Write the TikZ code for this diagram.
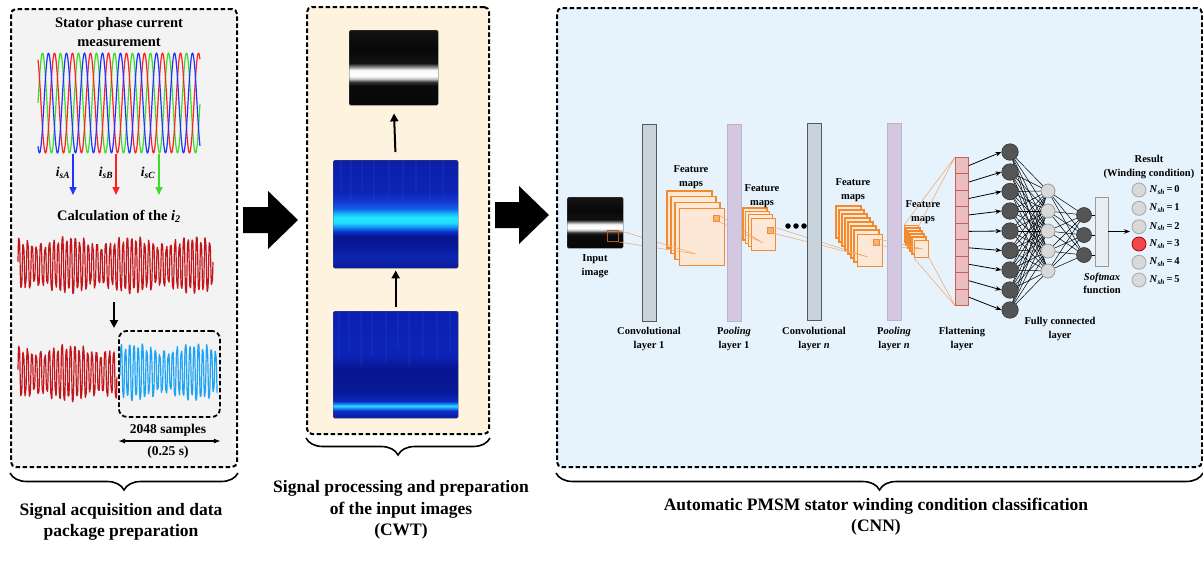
\documentclass[tikz,border=0pt]{standalone}
\usepackage{fontspec}
\setmainfont{Liberation Serif}
\usetikzlibrary{calc,decorations.pathreplacing,arrows.meta}

\definecolor{pOnefill}{HTML}{F3F3F3}
\definecolor{pTwofill}{HTML}{FDF3DF}
\definecolor{pThreefill}{HTML}{E6F3FD}
\definecolor{phA}{HTML}{2233FF}
\definecolor{phB}{HTML}{FF2020}
\definecolor{phC}{HTML}{3ADE2A}
\definecolor{itwo}{HTML}{C2161C}
\definecolor{pkt}{HTML}{1EA4F6}
\definecolor{fmedge}{HTML}{F28A2E}
\definecolor{fmfill}{HTML}{FDE8D8}
\definecolor{fmsq}{HTML}{F7B27A}
\definecolor{fmline}{HTML}{F2A86A}
\definecolor{insq}{HTML}{B45A14}
\definecolor{convfill}{HTML}{C9D3DB}
\definecolor{poolfill}{HTML}{D4C8E0}
\definecolor{pooledge}{HTML}{BFB0D2}
\definecolor{flatfill}{HTML}{EBBDBD}
\definecolor{flatedge}{HTML}{C46060}
\definecolor{neurdark}{HTML}{555555}
\definecolor{neurlight}{HTML}{D9D9D9}
\definecolor{neurred}{HTML}{F04848}
\definecolor{smfill}{HTML}{E8EEF2}

% scalogram shadings (path box = 25bp..75bp, top at 75bp)
\pgfdeclareverticalshading{grayscalo}{100bp}{%
  rgb(0bp)=(0.03,0.03,0.03); rgb(25bp)=(0.03,0.03,0.03);
  rgb(38bp)=(0.04,0.04,0.04); rgb(40.5bp)=(0.2,0.2,0.2);
  rgb(42.5bp)=(0.75,0.75,0.75); rgb(44.5bp)=(1,1,1); rgb(48.5bp)=(0.97,0.97,0.97);
  rgb(50.5bp)=(0.55,0.55,0.55); rgb(53bp)=(0.07,0.07,0.07);
  rgb(62.5bp)=(0.03,0.03,0.03); rgb(75bp)=(0.08,0.08,0.08); rgb(100bp)=(0.08,0.08,0.08)}
\pgfdeclareverticalshading{midscalo}{100bp}{%
  rgb(0bp)=(0.04,0.1,0.6); rgb(25bp)=(0.04,0.1,0.6);
  rgb(30bp)=(0.05,0.15,0.7); rgb(35bp)=(0.03,0.1,0.6);
  rgb(39.5bp)=(0.03,0.08,0.56); rgb(42bp)=(0.04,0.2,0.78);
  rgb(44bp)=(0.08,0.55,0.95); rgb(46bp)=(0.13,0.88,1);
  rgb(48.5bp)=(0.14,0.9,1); rgb(50.5bp)=(0.08,0.7,0.98);
  rgb(52.5bp)=(0.07,0.38,0.9); rgb(56bp)=(0.08,0.22,0.82);
  rgb(60bp)=(0.05,0.14,0.72); rgb(75bp)=(0.05,0.12,0.66); rgb(100bp)=(0.05,0.12,0.66)}
\pgfdeclareverticalshading{lowscalo}{100bp}{%
  rgb(0bp)=(0.04,0.1,0.62); rgb(25bp)=(0.04,0.1,0.62);
  rgb(28.5bp)=(0.05,0.18,0.78); rgb(29.75bp)=(0.1,0.55,0.98);
  rgb(30.75bp)=(0.2,0.9,1); rgb(31.5bp)=(0.1,0.6,1);
  rgb(33bp)=(0.05,0.16,0.74); rgb(37.5bp)=(0.03,0.1,0.6);
  rgb(47.5bp)=(0.03,0.08,0.56); rgb(55bp)=(0.05,0.14,0.72);
  rgb(75bp)=(0.05,0.12,0.7); rgb(100bp)=(0.05,0.12,0.7)}

% distorted negative-sequence current waveform (t in cycles)
\newcommand{\itwowave}[1]{(25*sin(360*frac(#1))+4*sin(360*frac(1.07*#1)+60)+3.5*sin(360*frac(3*#1))+3*sin(360*frac(0.61*#1)))}

\begin{document}
\begin{tikzpicture}[x=1pt,y=-1pt,
  panel/.style={draw=black, line width=2pt, dash pattern=on 4.5pt off 2.5pt,
    rounded corners=5pt, inner sep=0, anchor=north west},
  brc/.style={decorate, decoration={brace, mirror, amplitude=17pt}, line width=1.6pt},
  captxt/.style={font=\bfseries\fontsize{17.5}{21.5}\selectfont, align=center, inner sep=0},
  ttl/.style={font=\bfseries\fontsize{14.5}{19}\selectfont, align=center, inner sep=0},
  smalltxt/.style={font=\bfseries\fontsize{13.5}{19}\selectfont, align=center, inner sep=0},
  lbl/.style={font=\bfseries\fontsize{10.5}{13.5}\selectfont, align=center, inner sep=0},
  sig/.style={line width=1.2pt, line join=round},
  phasearr/.style={line width=1.4pt, -{Triangle[length=8pt,width=7pt]}},
  blkarr/.style={line width=2pt, -{Triangle[length=8pt,width=8pt]}},
  dblarr/.style={line width=1.3pt, {Latex[length=7pt,width=5pt]}-{Latex[length=7pt,width=5pt]}},
  bigarr/.style={fill=black},
  scalo/.style={shade, anchor=north west, inner sep=0, rounded corners=1.5pt, draw=black!70, line width=0.4pt},
  streak/.style={line width=2pt, color=cyan!60!blue, opacity=0.12},
  layerbar/.style={draw=black!65, line width=0.9pt, minimum width=14pt, minimum height=197pt,
    inner sep=0, anchor=north west},
  convbar/.style={layerbar, fill=convfill},
  poolbar/.style={layerbar, fill=poolfill, draw=pooledge},
  fmap/.style={draw=fmedge, fill=fmfill, line width=1.2pt},
  fmapn/.style={fmap, inner sep=0, anchor=north west},
  fsq/.style={draw=fmedge, fill=fmsq, line width=0.5pt, inner sep=0, minimum size=6pt},
  fline/.style={fmline, line width=0.55pt},
  flcell/.style={draw=flatedge, fill=flatfill, line width=0.8pt, inner sep=0,
    minimum width=13pt, minimum height=16.44pt, anchor=north west},
  ndark/.style={circle, draw=black!80, fill=neurdark, line width=0.6pt, inner sep=0, minimum size=16.5pt},
  nsmall/.style={circle, draw=black!80, fill=neurdark, line width=0.6pt, inner sep=0, minimum size=15pt},
  nlight/.style={circle, draw=black!40, fill=neurlight, line width=0.8pt, inner sep=0, minimum size=14pt},
  nres/.style={circle, draw=black!35, fill=neurlight, line width=0.8pt, inner sep=0, minimum size=14pt},
  nred/.style={nres, draw=red!70!black, fill=neurred},
  conn/.style={line width=0.5pt, black},
  farr/.style={line width=0.8pt, -{Stealth[length=6pt,width=4.5pt]}},
  dotn/.style={circle, fill=black, inner sep=0, minimum size=5.5pt}
]
\useasboundingbox (0,0) rectangle (1203,563);

% ---------- panels ----------
\node[panel, fill=pOnefill, minimum width=226pt, minimum height=458pt] (P1) at (10,8) {};
\node[panel, fill=pTwofill, minimum width=182pt, minimum height=427pt] (P2) at (306,6) {};
\node[panel, fill=pThreefill, minimum width=645pt, minimum height=459pt] (P3) at (556,7) {};

\draw[brc] ([yshift=-5pt]P1.south west) -- ([yshift=-5pt]P1.south east);
\draw[brc] ([yshift=-3pt]P2.south west) -- ([yshift=-3pt]P2.south east);
\draw[brc] ([yshift=-5pt]P3.south west) -- ([yshift=-5pt]P3.south east);

\node[captxt] (cap1) at (121,522) {Signal acquisition and data\\package preparation};
\node[captxt] (cap2) at (401,510) {Signal processing and preparation\\of the input images\\(CWT)};
\node[captxt] (cap3) at (876,516.5) {Automatic PMSM stator winding condition classification\\(CNN)};

% ---------- big flow arrows ----------
\fill[bigarr] (243,207) -- (268,207) -- (268,191) -- (298,220) -- (268,249) -- (268,233) -- (243,233) -- cycle;
\fill[bigarr] (495,202) -- (519,202) -- (519,186) -- (549,215) -- (519,244) -- (519,228) -- (495,228) -- cycle;

% ---------- panel 1: acquisition ----------
\node[ttl] (t1) at (119,32) {Stator phase current\\measurement};
\foreach \k/\c in {0/phC,1/phB,2/phA}
  \draw[sig,\c] plot[domain=0:9, samples=300, variable=\t]
    ({38+\t*18}, {103-50*sin(360*frac(\t)+120*\k)});

\coordinate (aA0) at (73,154);  \coordinate (aA1) at (73,195);
\coordinate (aB0) at (116,154); \coordinate (aB1) at (116,195);
\coordinate (aC0) at (159,154); \coordinate (aC1) at (159,195);
\draw[phasearr,phA] (aA0) -- (aA1);
\draw[phasearr,phB] (aB0) -- (aB1);
\draw[phasearr,phC] (aC0) -- (aC1);
\node[smalltxt, font=\bfseries\itshape\fontsize{13.5}{16}\selectfont] (lA) at (63,173) {i\textsubscript{sA}};
\node[smalltxt, font=\bfseries\itshape\fontsize{13.5}{16}\selectfont] (lB) at (106,173) {i\textsubscript{sB}};
\node[smalltxt, font=\bfseries\itshape\fontsize{13.5}{16}\selectfont] (lC) at (148,173) {i\textsubscript{sC}};

\node[ttl] (calc) at (119,216) {Calculation of the \textit{i}\textsubscript{\textit{2}}};
\draw[sig,itwo] plot[domain=0:45, samples=720, variable=\t]
  ({18+\t*4.3333}, {265-\itwowave{\t}});

\coordinate (dn0) at (114,302); \coordinate (dn1) at (114,328);
\draw[blkarr] (dn0) -- (dn1);

\draw[sig,itwo] plot[domain=0:23, samples=380, variable=\t]
  ({18+\t*4.3}, {373-\itwowave{\t}});
\draw[sig,pkt] plot[domain=23:45.6, samples=380, variable=\t]
  ({120+(\t-23)*4.3}, {372-\itwowave{\t}});
\node[draw=black, line width=1.8pt, dash pattern=on 4.5pt off 2.5pt, rounded corners=8pt,
  inner sep=0, anchor=north west, minimum width=101pt, minimum height=86pt] (pk) at (118,330) {};

\node[smalltxt] (ns) at (168,430) {2048 samples};
\node[smalltxt] (ts) at (168,452) {(0.25 s)};
\draw[dblarr] (pk.south west |- 0,441) -- (pk.south east |- 0,441);

% ---------- panel 2: CWT images ----------
\node[scalo, shading=grayscalo, minimum width=89pt, minimum height=75pt] (gimg) at (349,30) {};
\node[scalo, shading=midscalo, minimum width=125pt, minimum height=108pt] (s2) at (333,160) {};
\node[scalo, shading=lowscalo, minimum width=125pt, minimum height=107pt] (s1) at (333,311) {};
\foreach \f/\l in {0.06/34,0.14/40,0.23/30,0.33/42,0.45/36,0.56/40,0.66/32,0.77/42,0.88/36}
  \draw[streak] ($(s2.north west)!\f!(s2.north east)$) -- ++(0,\l);
\foreach \f/\l in {0.05/50,0.13/40,0.22/55,0.31/45,0.42/52,0.52/38,0.61/55,0.72/44,0.83/50,0.93/40}
  \draw[streak] ($(s1.north west)!\f!(s1.north east)$) -- ++(0,\l);
\draw[blkarr, shorten <=4pt, shorten >=2pt] (s1.north) -- (s2.south);
\draw[blkarr, shorten <=8pt, shorten >=8pt] (s2.north) -- (gimg.south);

% ---------- panel 3: CNN ----------
\node[scalo, shading=grayscalo, minimum width=56pt, minimum height=51pt] (inimg) at (567,197) {};
\node[draw=insq, line width=0.8pt, inner sep=0, minimum size=11pt] (sq0) at (612.5,236) {};
\node[lbl] (inl) at (595,266) {Input\\image};

% feature maps 1
\foreach \i in {0,1,2} \draw[fmap] ({667+4*\i},{191+5.67*\i}) rectangle ++(45,57);
\node[fmapn, minimum width=45pt, minimum height=57pt] (fm1) at (679,208) {};
\node[fsq] (sq1) at (716,218.5) {};
\node[lbl] (fl1) at (691,177) {Feature\\maps};
% feature maps 2
\foreach \i in {0,1,2} \draw[fmap] ({743+2.67*\i},{208+3.33*\i}) rectangle ++(24,32);
\node[fmapn, minimum width=24pt, minimum height=32pt] (fm2) at (751,218) {};
\node[fsq] (sq2) at (770,230) {};
\node[lbl] (fl2) at (762,196) {Feature\\maps};
% feature maps 3
\foreach \i in {0,...,6} \draw[fmap] ({836+3*\i},{206+4*\i}) rectangle ++(25,32);
\node[fmapn, minimum width=25pt, minimum height=32pt] (fm3) at (857,234) {};
\node[fsq] (sq3) at (876,242.5) {};
\node[lbl] (fl3) at (853,190) {Feature\\maps};
% feature maps 4
\node[fmapn, minimum width=14pt, minimum height=17pt] (fm4b) at (904,225) {};
\foreach \i in {1,...,4} \draw[fmap] ({904+2*\i},{225+3*\i}) rectangle ++(14,17);
\node[fmapn, minimum width=14pt, minimum height=17pt] (fm4) at (914,240) {};
\node[lbl] (fl4) at (923,212) {Feature\\maps};

% receptive-field lines
\coordinate (r1) at (696,254);
\coordinate (r2) at (763,243);
\coordinate (r3) at (868,257);
\coordinate (r4) at (923,249);
\draw[fline] (sq0.north east) -- (r1) (sq0.south east) -- (r1);
\draw[fline] (sq1.north east) -- (r2) (sq1.south east) -- (r2);
\draw[fline] (sq2.north east) -- (r3) (sq2.south east) -- (r3);
\draw[fline] (sq3.north east) -- (r4) (sq3.south east) -- (r4);

% layer bars
\node[convbar] (cv1) at (642,124) {};
\node[poolbar] (pl1) at (727,124) {};
\node[convbar] (cvn) at (807,123) {};
\node[poolbar] (pln) at (887,123) {};
\node[dotn] (d1) at (788,226) {};
\node[dotn] (d2) at (796,226) {};
\node[dotn] (d3) at (804,226) {};

\node[lbl] (lcv1) at (649,339) {Convolutional\\layer 1};
\node[lbl] (lpl1) at (734,339) {P\textit{ooling}\\layer 1};
\node[lbl] (lcvn) at (814,339) {Convolutional\\layer \textit{n}};
\node[lbl] (lpln) at (894,339) {P\textit{ooling}\\layer \textit{n}};

% flattening layer
\foreach \i in {1,...,9} \node[flcell] (c\i) at (955,{157+16.44*(\i-1)}) {};
\node[lbl] (lfl) at (962,339) {Flattening\\layer};
\draw[fline] (fm4b.north west) -- (c1.north west) (fm4b.north east) -- (c1.north west);
\draw[fline] (fm4.south west) -- (c9.south west) (fm4.south east) -- (c9.south west);

% fully connected part
\foreach \i/\y in {1/152,2/172,3/191.5,4/211,5/231,6/250.5,7/270,8/290,9/310}
  \coordinate (h\i) at (1010,\y);
\foreach \i/\y in {1/191,2/211,3/231,4/251,5/271}
  \coordinate (g\i) at (1048,\y);
\foreach \i/\y in {1/215,2/235,3/255}
  \coordinate (o\i) at (1084,\y);
\node[draw=black!40, fill=smfill, line width=0.8pt, inner sep=0, minimum width=13pt,
  minimum height=69pt] (sm) at (1101.5,231.5) {};

\foreach \i in {1,...,9} \foreach \j in {1,...,5} \draw[conn] (h\i) -- (g\j);
\foreach \i in {1,...,5} \foreach \j in {1,...,3} \draw[conn] (g\i) -- (o\j);
\foreach \i in {1,...,9} \node[ndark] (H\i) at (h\i) {};
\foreach \i in {1,...,5} \node[nlight] (G\i) at (g\i) {};
\foreach \i in {1,2,3} {
  \node[nsmall] (O\i) at (o\i) {};
  \draw[conn] (O\i.east) -- (O\i.east -| sm.west);
}
\foreach \i in {1,...,9} \draw[farr] (c\i.east) -- (H\i.west);
\node[lbl] (lfc) at (1060,329) {Fully connected\\layer};
\node[lbl] (lsm) at (1102,283.5) {\textit{Softmax}\\function};

% result
\coordinate (rs) at (1130,231.5);
\draw[farr] (sm.east) -- (rs);
\node[lbl] (lres) at (1149,167) {Result\\(Winding condition)};
\foreach \i/\y in {0/190,1/208.3,2/226.7,4/262.3,5/280}
  \node[nres] (n\i) at (1139,\y) {};
\node[nred] (n3) at (1139,244) {};
\foreach \i in {0,...,5}
  \node[lbl, anchor=west] (nl\i) at ([xshift=3pt]n\i.east)
    {\textit{N}\textsubscript{\textit{sh}}\,=\,\i};
\end{tikzpicture}
\end{document}
